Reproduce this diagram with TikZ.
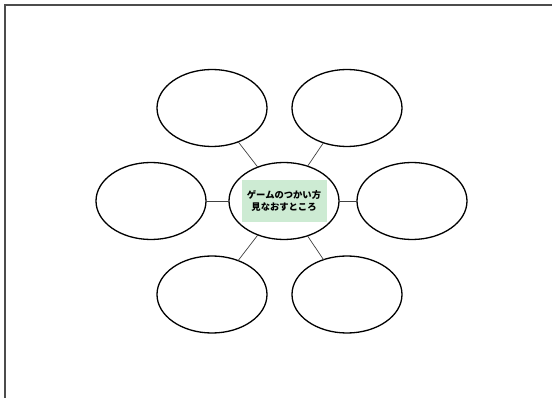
\documentclass[tikz,border=0pt]{standalone}
\usepackage{fontspec}
\newfontfamily\cjk{Noto Sans CJK JP}
\usetikzlibrary{shapes.geometric}
\definecolor{frameline}{HTML}{4C4C4C}
\definecolor{notegreen}{HTML}{CDEBD3}
\tikzset{
  bubble/.style={ellipse, draw=black, line width=1.3pt, fill=white,
    minimum width=110pt, minimum height=77pt, inner sep=0pt, outer sep=0pt},
  spoke/.style={draw=black!75, line width=0.7pt},
  notebox/.style={fill=notegreen, minimum width=85pt, minimum height=42pt,
    inner sep=0pt, align=center, font=\cjk\bfseries\fontsize{9.3}{12.5}\selectfont}
}
\begin{document}
\begin{tikzpicture}[x=1pt,y=-1pt]
  \useasboundingbox (0,0) rectangle (552,398);
  % sheet frame: top and left edges only
  \draw[frameline, line width=2pt] (5.2,398) -- (5.2,5.2) -- (552,5.2);

  % central bubble and its satellites
  \node[bubble] (c)  at (284,201) {};
  \node[bubble] (tl) at (212,108) {};
  \node[bubble] (tr) at (347,108) {};
  \node[bubble] (l)  at (151,201) {};
  \node[bubble] (r)  at (412,201) {};
  \node[bubble] (bl) at (212,294.5) {};
  \node[bubble] (br) at (347,294.5) {};

  \node[notebox] (t) at (c) {ゲームのつかい方\\見なおすところ};

  \foreach \n in {tl,tr,l,r,bl,br}
    \draw[spoke] (c) -- (\n);
\end{tikzpicture}
\end{document}
